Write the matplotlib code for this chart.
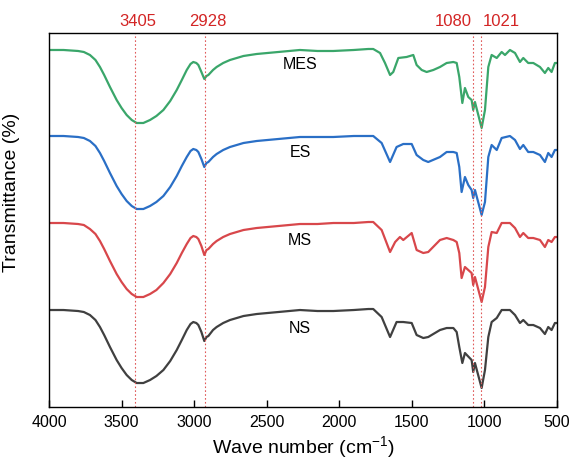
import numpy as np
import matplotlib
matplotlib.use("Agg")
from matplotlib import pyplot as plt
import matplotlib.transforms as mtransforms

plt.rcParams["font.family"] = ["Liberation Sans", "DejaVu Sans"]
plt.rcParams["mathtext.fontset"] = "custom"
plt.rcParams["mathtext.rm"] = "Liberation Sans"

# wavenumber grid for the broad O-H / C-H region (shared by all spectra)
wn_oh = [4000, 3900, 3800, 3760, 3718, 3680, 3649, 3620, 3580, 3534, 3500, 3465, 3430, 3396,
         3350, 3304, 3260, 3212, 3165, 3120, 3085, 3051, 3025, 3006, 2985, 2971, 2950, 2930,
         2915, 2902, 2870, 2845, 2800, 2753, 2660, 2569, 2420, 2271, 2150, 2041, 1900, 1800, 1766]

mes_oh = [357, 357, 356, 355, 352, 347, 340, 332, 320, 307, 299, 292, 287, 284, 284, 287, 291, 297,
          306, 317, 327, 337, 343, 345, 344, 342, 335, 328, 331, 332, 337, 340, 344, 347, 351, 353,
          355, 357, 356, 356, 357, 358, 358]
es_oh = [271, 271, 270, 269, 266, 261, 254, 246, 234, 221, 213, 206, 201, 198, 198, 201, 205, 211,
         220, 231, 241, 250, 256, 258, 257, 255, 248, 240, 244, 245, 250, 253, 257, 260, 264, 266,
         268, 270, 270, 270, 271, 271, 271]
ms_oh = [184, 184, 183, 182, 178, 173, 166, 158, 146, 133, 125, 118, 113, 110, 110, 113, 117, 124,
         133, 144, 154, 163, 169, 171, 170, 168, 161, 152, 157, 158, 163, 166, 170, 173, 177, 179,
         181, 183, 183, 184, 184, 185, 185]
ns_oh = [97, 97, 96, 95, 92, 87, 80, 72, 60, 47, 39, 32, 27, 24, 24, 27, 31, 37, 46, 57, 67, 77,
         83, 85, 84, 82, 75, 66, 70, 71, 77, 80, 84, 87, 91, 93, 95, 97, 96, 96, 97, 98, 98]

# fingerprint region
mes_fp_wn = [1719, 1685, 1650, 1628, 1593, 1536, 1490, 1467, 1432, 1398, 1352, 1306, 1260, 1214,
             1191, 1173, 1152, 1134, 1111, 1088, 1077, 1065, 1019, 996, 973, 950, 915, 881, 858,
             824, 789, 755, 732, 698, 663, 617, 583, 560, 537, 514, 500]
mes_fp = [354, 344, 332, 335, 349, 350, 352, 342, 337, 335, 337, 340, 344, 345, 344, 330, 304, 319,
          310, 307, 297, 305, 279, 297, 340, 352, 349, 355, 352, 357, 354, 345, 349, 344, 344, 340,
          334, 339, 335, 344, 344]

es_fp_wn = [1708, 1650, 1605, 1559, 1501, 1467, 1421, 1387, 1306, 1260, 1214, 1191, 1173, 1157,
            1134, 1111, 1088, 1077, 1065, 1019, 996, 973, 950, 915, 881, 824, 789, 755, 732, 698,
            663, 617, 583, 560, 537, 514, 500]
es_fp = [264, 245, 260, 263, 263, 252, 247, 245, 250, 255, 255, 254, 240, 215, 230, 222, 217, 209,
         217, 192, 205, 250, 262, 257, 269, 271, 267, 258, 262, 255, 255, 252, 245, 254, 250, 257, 257]

ms_fp_wn = [1708, 1650, 1615, 1582, 1559, 1501, 1467, 1421, 1387, 1306, 1260, 1214, 1191, 1173,
            1157, 1134, 1088, 1077, 1065, 1019, 996, 973, 950, 915, 881, 824, 789, 755, 732, 698,
            663, 617, 583, 560, 537, 514, 500]
ms_fp = [177, 155, 165, 170, 167, 174, 157, 154, 155, 167, 169, 167, 165, 154, 129, 140, 134, 122,
         130, 105, 120, 160, 175, 174, 184, 184, 179, 170, 174, 169, 169, 167, 160, 167, 165, 170, 170]

ns_fp_wn = [1708, 1650, 1605, 1559, 1501, 1467, 1421, 1387, 1306, 1260, 1214, 1191, 1173, 1152,
            1134, 1088, 1077, 1065, 1019, 996, 973, 950, 915, 881, 824, 789, 755, 732, 698, 663,
            617, 583, 560, 537, 514, 500]
ns_fp = [90, 70, 85, 85, 84, 72, 69, 70, 77, 79, 79, 75, 60, 44, 54, 47, 35, 44, 19, 37, 70, 85,
         89, 97, 97, 92, 84, 87, 82, 82, 79, 73, 80, 77, 84, 84]

names = ["MES", "ES", "MS", "NS"]
colors = ["#3aa66a", "#2a6fc6", "#d8474b", "#404040"]
label_y = [342, 254, 167, 79]
peaks = [3405, 2928, 1080, 1021]

spectra = [(wn_oh + mes_fp_wn, mes_oh + mes_fp),
           (wn_oh + es_fp_wn, es_oh + es_fp),
           (wn_oh + ms_fp_wn, ms_oh + ms_fp),
           (wn_oh + ns_fp_wn, ns_oh + ns_fp)]

fig = plt.figure(figsize=(5.72, 4.62), dpi=100)
ax = fig.add_axes([0.0857, 0.119, 0.888, 0.8096])

for (x, y), c in zip(spectra, colors):
    ax.plot(x, y, color=c, lw=1.6, solid_joinstyle="round")

for p in peaks:
    ax.axvline(p, color="#e05a5a", lw=0.8, ls=(0, (1.5, 2)))

for n, yl in zip(names, label_y):
    ax.text(2270, yl, n, ha="center", va="center", fontsize=11.5)

trans = mtransforms.blended_transform_factory(ax.transData, ax.transAxes)
peak_text = [(3390, "center"), (2905, "center"), (1088, "right"), (1012, "left")]
for p, (tx, ha) in zip(peaks, peak_text):
    ax.text(tx, 1.032, str(p), transform=trans, ha=ha, va="center",
            fontsize=12, color="#d32525")

ax.set_xlim(4000, 500)
ax.set_ylim(0, 374)
ax.set_xticks([4000, 3500, 3000, 2500, 2000, 1500, 1000, 500])
ax.set_yticks([])
ax.tick_params(axis="x", direction="in", length=5, width=1, labelsize=11.5, pad=6)
for s in ax.spines.values():
    s.set_linewidth(1)
ax.set_xlabel(r"Wave number (cm$^{-1}$)", fontsize=14, labelpad=3)
ax.set_ylabel("Transmittance (%)", fontsize=14)
ax.yaxis.set_label_coords(-0.057, 0.575)

fig.savefig("out.png", dpi=100)
